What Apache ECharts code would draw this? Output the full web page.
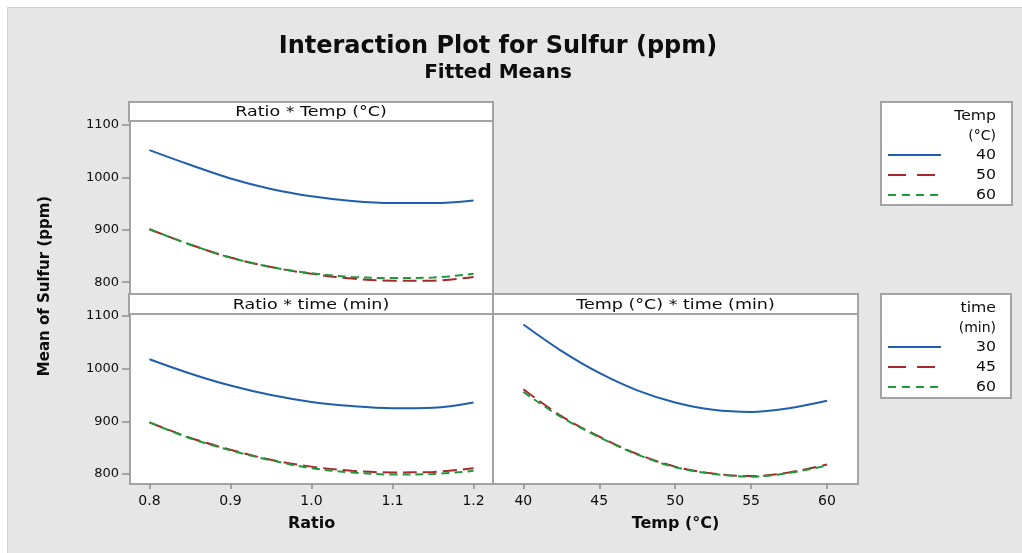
<!DOCTYPE html>
<html>
<head>
<meta charset="utf-8">
<script src="https://cdn.jsdelivr.net/npm/echarts@6/dist/echarts.min.js"></script>
<style>
html,body{margin:0;padding:0;background:#ffffff;}
#bg{position:absolute;left:7px;top:7px;width:1014px;height:545px;background:#e6e6e6;border-left:1px solid #d2d2d2;border-top:1px solid #d2d2d2;}
#chart{position:absolute;left:0;top:0;width:1022px;height:553px;}
</style>
</head>
<body>
<div id="bg"></div>
<div id="chart"></div>
<script>
// ---- data ----
const ratioX = [0.80, 0.85, 0.90, 0.95, 1.00, 1.05, 1.10, 1.15, 1.20];
const tempX  = [40, 42.5, 45, 47.5, 50, 52.5, 55, 57.5, 60];

// Ratio * Temp (°C)
const ratioTemp40 = [1052, 1024, 998, 978, 964, 955, 951, 951, 956];
const ratioTemp50 = [901, 872, 847, 829, 816, 807, 803, 803, 810];
const ratioTemp60 = [901, 872, 847, 829, 817, 810, 808, 809, 816];

// Ratio * time (min)
const ratioTime30 = [1018, 991, 968, 950, 937, 929, 925, 926, 936];
const ratioTime45 = [898, 869, 846, 827, 814, 806, 803, 804, 811];
const ratioTime60 = [898, 868, 845, 826, 811, 803, 799, 800, 806];

// Temp (°C) * time (min)
const tempTime30 = [1084, 1034, 992, 959, 936, 922, 918, 925, 939];
const tempTime45 = [961, 910, 871, 838, 814, 801, 796, 803, 818];
const tempTime60 = [956, 908, 870, 837, 813, 800, 795, 802, 816];

const yTicks = [800, 900, 1000, 1100];
const ratioTicks = [0.8, 0.9, 1.0, 1.1, 1.2];
const tempTicks = [40, 45, 50, 55, 60];

const tempLevels = ['40', '50', '60'];
const timeLevels = ['30', '45', '60'];

// ---- styles ----
const FONT = 'DejaVu Sans';
const BORDER = '#a3a3a3';
const TICK = '#8f8f8f';
const TXT = '#0d0d0d';
const levelStyles = [
  {color: '#1f5fae', type: 'solid'},
  {color: '#a8282c', type: [14, 6]},
  {color: '#1e9a3a', type: [8, 5]}
];
const legendDash = ['solid', [18, 11], [8, 6]];

function pairs(xs, ys) { return xs.map((x, i) => [x, ys[i]]); }

function lineSeries(name, xs, ys, idx, gi) {
  const st = levelStyles[idx];
  return {
    name: name, type: 'line', xAxisIndex: gi, yAxisIndex: gi,
    data: pairs(xs, ys), smooth: 0.35, symbol: 'none', silent: true,
    lineStyle: {color: st.color, width: 2, type: st.type},
    z: 3 + idx
  };
}

const yAxisBase = (gi, min, max, show) => ({
  type: 'value', gridIndex: gi, min: min, max: max,
  splitLine: {show: false},
  axisLine: {show: false},
  axisTick: {show: show, length: 8, lineStyle: {color: TICK, width: 1.5}, customValues: yTicks},
  axisLabel: {show: show, margin: 11, color: TXT, fontFamily: FONT, fontSize: 13, customValues: yTicks, formatter: v => String(v)}
});

const xAxisBase = (gi, min, max, ticks, show, name, fmt) => ({
  type: 'value', gridIndex: gi, min: min, max: max,
  splitLine: {show: false},
  axisLine: {show: false},
  axisTick: {show: show, length: 5, lineStyle: {color: TICK, width: 1.5}, customValues: ticks},
  axisLabel: {show: show, margin: 10, color: TXT, fontFamily: FONT, fontSize: 14, customValues: ticks, formatter: fmt},
  name: name, nameLocation: 'middle', nameGap: 32,
  nameTextStyle: {color: TXT, fontFamily: FONT, fontSize: 16, fontWeight: 'bold'}
});

const gridCommon = {show: true, backgroundColor: '#ffffff', borderColor: BORDER, borderWidth: 2, containLabel: false};

function stretchedText(x, y, label, align, sx, font) {
  return {type: 'text', x: x, y: y, scaleX: sx, scaleY: 1,
    style: {text: label, x: 0, y: 0, textAlign: align, textVerticalAlign: 'middle', font: font, fill: TXT}, z: 11};
}

function headerRect(x, y, w, h, label) {
  return [
    {type: 'rect', shape: {x: x, y: y, width: w, height: h}, style: {fill: '#ffffff', stroke: BORDER, lineWidth: 2}, z: 10},
    stretchedText(x + w / 2, y + h / 2 + 1, label, 'center', 1.25, '14px "' + FONT + '"')
  ];
}

function legendBlock(x, y, w, h, title1, title2, levels) {
  const f = '14px "' + FONT + '"';
  const els = [
    {type: 'rect', shape: {x: x, y: y, width: w, height: h}, style: {fill: '#ffffff', stroke: BORDER, lineWidth: 2}, z: 10},
    stretchedText(x + 115, y + 14, title1, 'right', 1.12, f),
    stretchedText(x + 115, y + 34, title2, 'right', 1.0, f)
  ];
  levels.forEach((lv, i) => {
    const yy = y + 53 + i * 20;
    els.push({type: 'line', shape: {x1: x + 7, y1: yy, x2: x + 60, y2: yy},
      style: {stroke: levelStyles[i].color, lineWidth: 2, lineDash: legendDash[i] === 'solid' ? null : legendDash[i]}, z: 11});
    els.push(stretchedText(x + 115, yy, lv, 'right', 1.12, f));
  });
  return els;
}

const chart = echarts.init(document.getElementById('chart'), null, {renderer: 'canvas'});

const option = {
  backgroundColor: 'transparent',
  animation: false,
  title: [
    {text: 'Interaction Plot for Sulfur (ppm)', left: 493, top: 30, textAlign: 'center',
     textStyle: {fontFamily: FONT, fontSize: 24, fontWeight: 'bold', color: TXT}},
    {text: 'Fitted Means', left: 493, top: 58, textAlign: 'center',
     textStyle: {fontFamily: FONT, fontSize: 20, fontWeight: 'bold', color: TXT}}
  ],
  grid: [
    Object.assign({left: 130, top: 121, width: 363, height: 173}, gridCommon),
    Object.assign({left: 130, top: 314, width: 363, height: 170}, gridCommon),
    Object.assign({left: 493, top: 314, width: 365, height: 170}, gridCommon)
  ],
  xAxis: [
    xAxisBase(0, 0.776, 1.224, ratioTicks, false, '', v => v.toFixed(1)),
    xAxisBase(1, 0.776, 1.224, ratioTicks, true, 'Ratio', v => v.toFixed(1)),
    xAxisBase(2, 38.0, 62.04, tempTicks, true, 'Temp (°C)', v => String(v))
  ],
  yAxis: [
    yAxisBase(0, 777.5, 1107.6, true),
    yAxisBase(1, 781, 1104, true),
    yAxisBase(2, 781, 1104, false)
  ],
  series: [
    lineSeries(tempLevels[0], ratioX, ratioTemp40, 0, 0),
    lineSeries(tempLevels[1], ratioX, ratioTemp50, 1, 0),
    lineSeries(tempLevels[2], ratioX, ratioTemp60, 2, 0),
    lineSeries(timeLevels[0], ratioX, ratioTime30, 0, 1),
    lineSeries(timeLevels[1], ratioX, ratioTime45, 1, 1),
    lineSeries(timeLevels[2], ratioX, ratioTime60, 2, 1),
    lineSeries(timeLevels[0], tempX, tempTime30, 0, 2),
    lineSeries(timeLevels[1], tempX, tempTime45, 1, 2),
    lineSeries(timeLevels[2], tempX, tempTime60, 2, 2)
  ],
  graphic: [].concat(
    headerRect(129, 102, 364, 19, 'Ratio * Temp (°C)'),
    headerRect(129, 294, 364, 20, 'Ratio * time (min)'),
    headerRect(493, 294, 365, 20, 'Temp (°C) * time (min)'),
    legendBlock(881, 102, 131, 103, 'Temp', '(°C)', tempLevels),
    legendBlock(881, 294, 130, 104, 'time', '(min)', timeLevels),
    [{type: 'text', rotation: Math.PI / 2, x: 45, y: 286,
      style: {text: 'Mean of Sulfur (ppm)', x: 0, y: 0, textAlign: 'center', textVerticalAlign: 'middle',
              font: 'bold 15px "' + FONT + '"', fill: TXT}, z: 11}]
  )
};
chart.setOption(option);
</script>
</body>
</html>
